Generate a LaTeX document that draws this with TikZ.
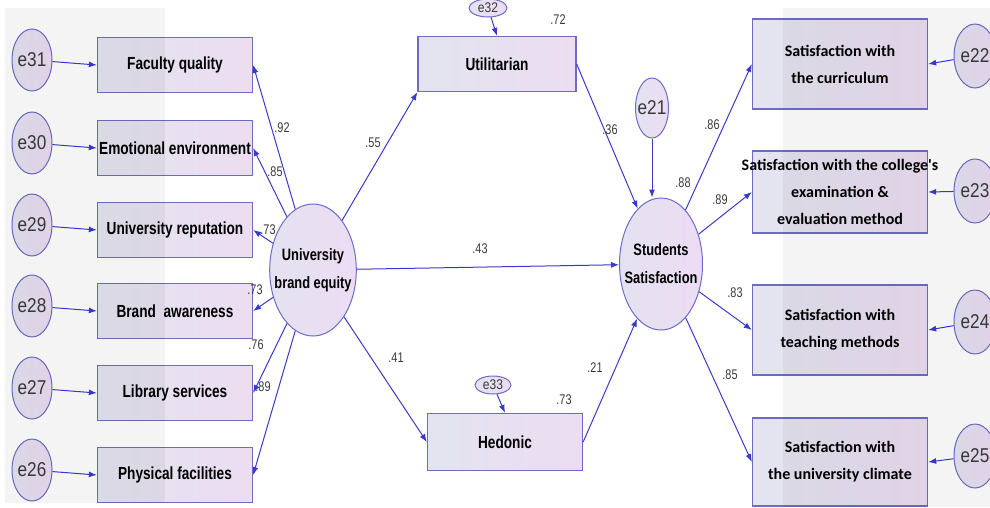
\documentclass[tikz,border=0pt]{standalone}
\usepackage{fontspec}
\setmainfont{Liberation Sans}
\newfontfamily\narrowfont[FakeStretch=0.78]{Liberation Sans}
\newfontfamily\errfont[FakeStretch=0.86]{Liberation Sans}
\newfontfamily\calfont{Carlito}
\usetikzlibrary{arrows.meta,shapes.geometric}
\definecolor{pathblue}{HTML}{3A3AC8}
\definecolor{edgeblue}{HTML}{6C6CC4}
\definecolor{boxl}{HTML}{E3E4F0}
\definecolor{boxr}{HTML}{ECDDF1}
\definecolor{latl}{HTML}{E4E2F1}
\definecolor{latr}{HTML}{ECDCF3}
\definecolor{errtext}{HTML}{3A3A3A}

\begin{document}
\begin{tikzpicture}[x=1pt, y=-1pt,
    obs/.style={draw=edgeblue, line width=1.3pt, left color=boxl, right color=boxr, inner sep=0pt,
        minimum width=155pt, minimum height=55pt, font=\narrowfont\bfseries\fontsize{17.5pt}{20pt}\selectfont},
    obsr/.style={obs, minimum width=175pt, minimum height=90pt, align=center,
        font=\calfont\bfseries\fontsize{16pt}{27pt}\selectfont},
    err/.style={ellipse, draw=edgeblue, line width=1pt, left color=latl, right color=latr, inner sep=-5pt,
        minimum width=40pt, minimum height=62pt, text=errtext, font=\errfont\fontsize{20pt}{22pt}\selectfont},
    lat/.style={err, inner sep=-8pt, minimum width=83pt, minimum height=132pt, align=center, text=black,
        font=\narrowfont\bfseries\fontsize{16.5pt}{28pt}\selectfont},
    errsmall/.style={err, minimum width=38pt, minimum height=18pt, font=\errfont\fontsize{14pt}{16pt}\selectfont},
    est/.style={font=\narrowfont\fontsize{14pt}{16pt}\selectfont, text=errtext, inner sep=0pt},
    arr/.style={draw=pathblue, line width=1pt, -{Latex[length=8pt,width=6pt]}}]
    \useasboundingbox (0,0) rectangle (990,507);
    \node[lat] (ube) at (313,270) {University\\brand equity};
    \node[lat] (sat) at (661,264) {Students\\Satisfaction};
    \foreach \y/\e/\lx/\ly/\lv/\txt [count=\i] in {65/31/282/128/92/Faculty quality,
        148/30/275/172/85/Emotional environment, 230/29/268/230/73/University reputation,
        311/28/255/290/73/Brand\ \ awareness, 393/27/256/345/76/Library services,
        475/26/263/387/89/Physical facilities}
    {
        \node[obs] (ind\i) at (175,\y) {\txt};
        \node[err] (e\e) at (32,\y-5) {e\e};
        \draw[arr] (e\e) -- (ind\i.west);
        \draw[arr] (ube) -- (ind\i.east);
        \node[est] (w\i) at (\lx,\ly) {.\lv};
    }
    \node[obs, minimum width=158pt] (util) at (497,64) {Utilitarian};
    \node[obs, minimum height=57pt] (hed) at (505,442) {Hedonic};
    \node[errsmall] (e32) at (488,8) {e32};
    \node[errsmall, minimum width=36pt] (e33) at (493,385) {e33};
    \node[err, minimum width=33pt, minimum height=60pt] (e21) at (652,108) {e21};
    \node[obsr] (c1) at (840,64) {Satisfaction with\\the curriculum};
    \node[obsr, minimum height=82pt] (c2) at (840,192) {\makebox[150pt]{Satisfaction with the college's}\\examination \&\\evaluation method};
    \node[obsr] (c3) at (840,330) {Satisfaction with\\teaching methods};
    \node[obsr, minimum height=88pt] (c4) at (840,462) {Satisfaction with\\the university climate};
    \foreach \y/\e/\lx/\ly/\lv [count=\c] in {56/22/712/125/86, 191/23/720/200/89, 322/24/735/293/83, 456/25/730/375/85}
    {
        \node[err, minimum width=42pt, minimum height=64pt] (e\e) at (975,\y) {e\e};
        \draw[arr] (e\e) -- (c\c.east);
        \draw[arr] (sat) -- (c\c.west);
        \node[est] (v\c) at (\lx,\ly) {.\lv};
    }
    \draw[arr] (ube) -- (util.south west);
    \draw[arr] (ube) -- (hed.west);
    \draw[arr] (ube) -- (sat);
    \draw[arr] (util.east) -- (sat);
    \draw[arr] (hed.east) -- (sat);
    \draw[arr] (e32) -- (util.north);
    \draw[arr] (e33) -- (hed.north);
    \draw[arr] (e21) -- (e21 |- sat.north);
    \node[est] (p55) at (373,143) {.55};
    \node[est] (p36) at (610,130) {.36};
    \node[est] (p43) at (480,249) {.43};
    \node[est] (p41) at (396,358) {.41};
    \node[est] (p21) at (595,368) {.21};
    \node[est] (r72) at (558,20) {.72};
    \node[est] (r73) at (564,400) {.73};
    \node[est] (r88) at (683,183) {.88};
    \fill[black, fill opacity=0.045] (5,8) rectangle (165,503);
    \fill[black, fill opacity=0.045] (783,8) rectangle (990,507);
\end{tikzpicture}
\end{document}
